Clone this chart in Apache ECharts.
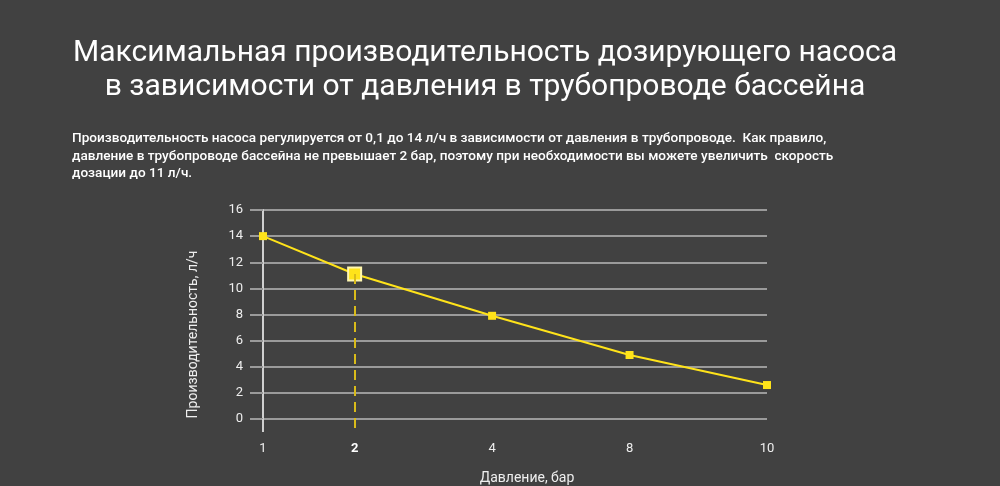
<!DOCTYPE html>
<html>
<head>
<meta charset="utf-8">
<script src="https://cdn.jsdelivr.net/npm/echarts@6/dist/echarts.min.js"></script>
<style>
  html, body { margin: 0; padding: 0; background: #414141; }
  #main { width: 1000px; height: 486px; }
</style>
</head>
<body>
<div id="main"></div>
<script>
var myChart = echarts.init(document.getElementById('main'));

// давление, бар (пустые ячейки — промежутки на оси)
var pressure = ['1', '', '2', '', '', '4', '', '', '8', '', '', '10'];
// производительность, л/ч
var flow = [14, null, 11.1, null, null, 7.9, null, null, 4.9, null, null, 2.6];
var yTicks = [0, 2, 4, 6, 8, 10, 12, 14, 16];
var marked = '2';

var titleText = 'Максимальная производительность дозирующего насоса\nв зависимости от давления в трубопроводе бассейна';
var noteText = 'Производительность насоса регулируется от 0,1 до 14 л/ч в зависимости от давления в трубопроводе.  Как правило,\n' +
  'давление в трубопроводе бассейна не превышает 2 бар, поэтому при необходимости вы можете увеличить  скорость\n' +
  'дозации до 11 л/ч.';

var seriesData = flow.map(function (v, i) {
  if (pressure[i] === marked) {
    return {
      value: v,
      symbolSize: 13,
      itemStyle: { color: '#ffe31a', borderColor: '#fff7b0', borderWidth: 2 }
    };
  }
  return v;
});

var option = {
  backgroundColor: '#414141',
  textStyle: { fontFamily: 'Roboto' },
  title: [{
    text: titleText,
    left: 480,
    top: 31,
    textAlign: 'center',
    textStyle: { color: '#ffffff', fontSize: 30, fontWeight: 'normal', lineHeight: 34, fontFamily: 'Roboto' }
  }, {
    text: noteText,
    left: 67,
    top: 125,
    textStyle: { color: '#ffffff', fontSize: 13.6, fontWeight: 500, lineHeight: 17.5, fontFamily: 'Roboto' }
  }],
  grid: { left: 263, right: 233, top: 210, bottom: 67, outerBoundsMode: 'none' },
  xAxis: {
    type: 'category',
    data: pressure,
    boundaryGap: false,
    name: 'Давление, бар',
    nameLocation: 'middle',
    nameGap: 52,
    nameTextStyle: { color: '#eeeeee', fontSize: 14, padding: [0, 0, 0, 24] },
    axisLine: { show: false },
    axisTick: {
      show: true,
      length: 13,
      interval: function (i) { return i === 0; },
      lineStyle: { color: '#cfcfcf', width: 2 }
    },
    axisLabel: {
      color: '#eeeeee',
      fontSize: 13,
      margin: 23,
      interval: 0,
      formatter: function (v) { return v === marked ? '{b|' + v + '}' : v; },
      rich: { b: { fontWeight: 'bold', color: '#ffffff', fontSize: 13 } }
    },
    splitLine: { show: false }
  },
  yAxis: {
    type: 'value',
    min: yTicks[0],
    max: yTicks[yTicks.length - 1],
    interval: 2,
    name: 'Производительность, л/ч',
    nameLocation: 'middle',
    nameGap: 63,
    nameTextStyle: { color: '#eeeeee', fontSize: 14, padding: [0, 0, 0, -40] },
    axisLine: { show: true, lineStyle: { color: '#cfcfcf', width: 2 } },
    axisTick: { show: true, length: 13, lineStyle: { color: '#9a9a9a', width: 2 } },
    axisLabel: { color: '#eeeeee', fontSize: 13, margin: 20 },
    splitLine: { show: true, lineStyle: { color: '#9a9a9a', width: 2 } }
  },
  series: [{
    type: 'line',
    data: seriesData,
    connectNulls: true,
    symbol: 'rect',
    symbolSize: 8,
    lineStyle: { color: '#ffe31a', width: 2 },
    itemStyle: { color: '#ffe31a' },
    z: 3,
    markLine: {
      silent: true,
      symbol: 'none',
      label: { show: false },
      lineStyle: { color: '#d9bb1a', type: [10, 6], width: 2 },
      data: [[
        { coord: [marked, flow[pressure.indexOf(marked)]] },
        { coord: [marked, 0], y: 433 }
      ]]
    }
  }]
};

myChart.setOption(option);
</script>
</body>
</html>
